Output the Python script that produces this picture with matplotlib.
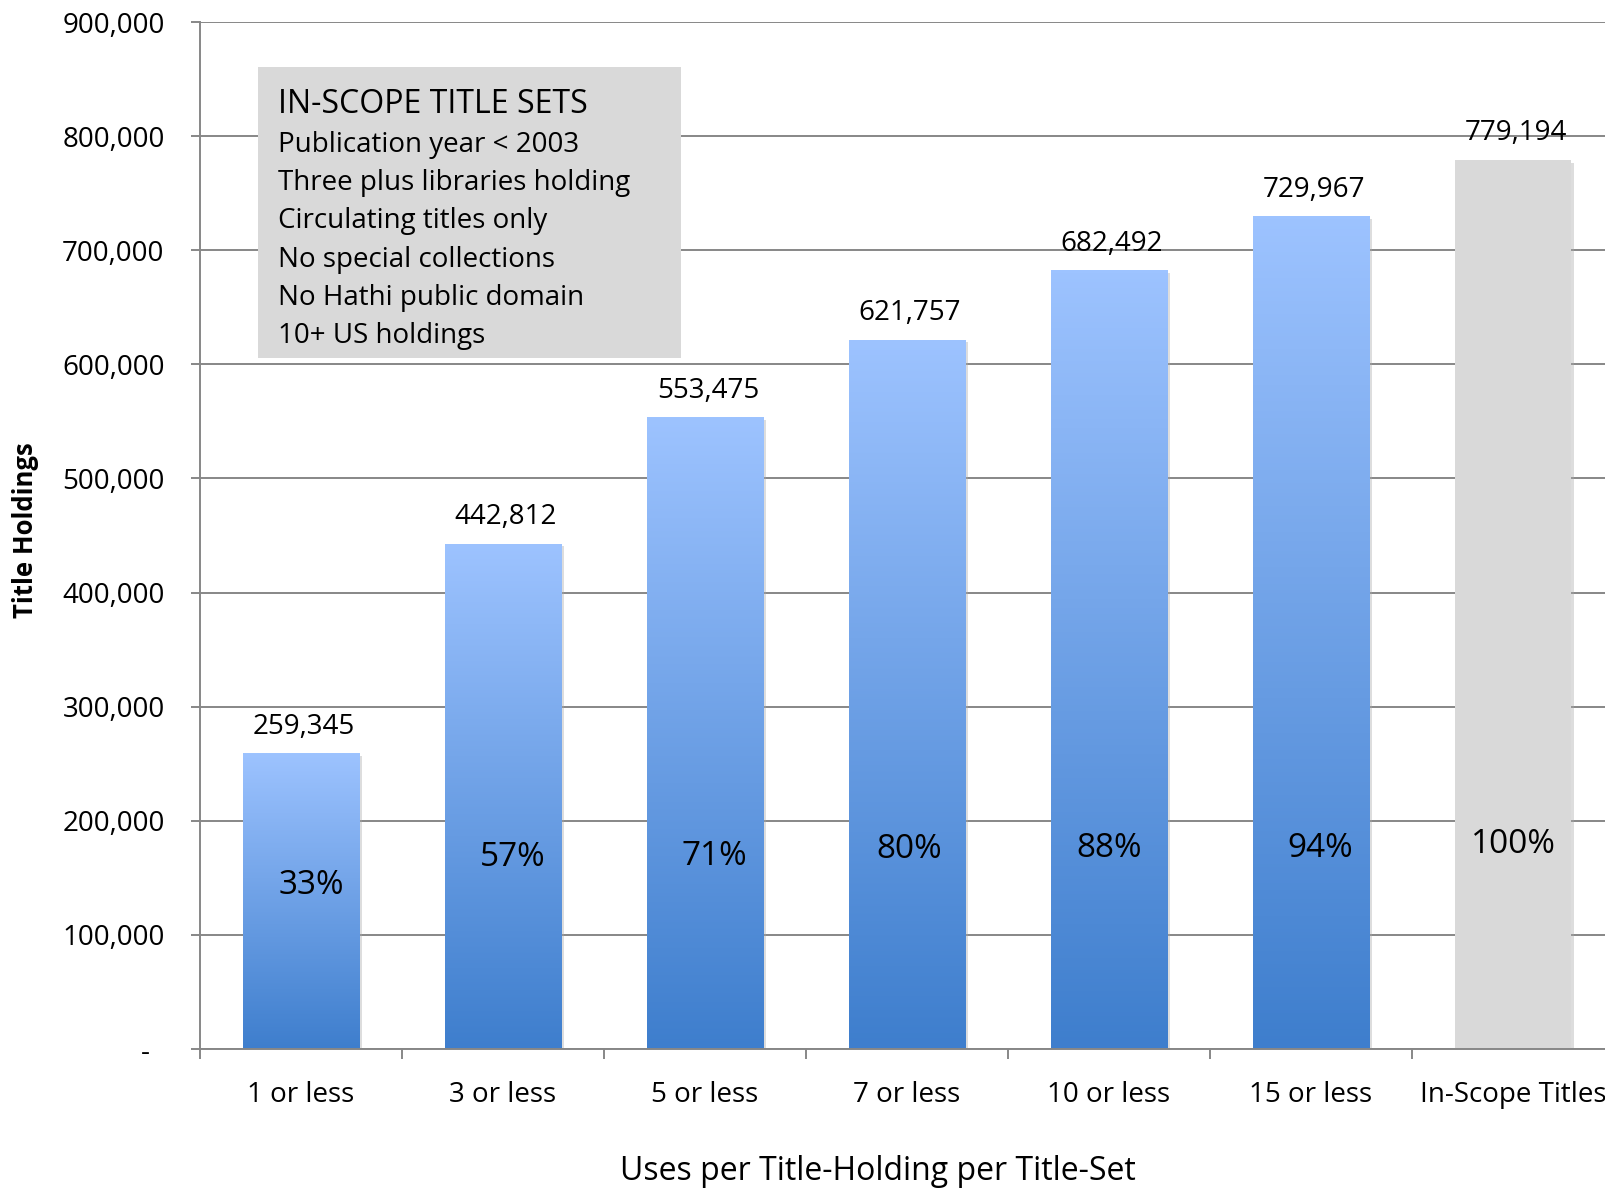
import numpy as np
import matplotlib.pyplot as plt
from matplotlib.patches import Rectangle
from matplotlib.colors import LinearSegmentedColormap
import matplotlib.patheffects as pe

plt.rcParams['font.family'] = ['Open Sans', 'DejaVu Sans']

# data
categories = ['1 or less', '3 or less', '5 or less', '7 or less',
              '10 or less', '15 or less', 'In-Scope Titles']
holdings = [259345, 442812, 553475, 621757, 682492, 729967, 779194]
pct_labels = ['33%', '57%', '71%', '80%', '88%', '94%', '100%']
pct_y = [136000, 160000, 161000, 167000, 168000, 168000, 172000]
pct_dx = [0.05, 0.05, 0.045, 0.01, 0.0, 0.045, 0.0]
legend_lines = ['Publication year < 2003', 'Three plus libraries holding',
                'Circulating titles only', 'No special collections',
                'No Hathi public domain', '10+ US holdings']

W, H = 1606, 1189
fig = plt.figure(figsize=(W / 100, H / 100), dpi=100)
ax = fig.add_axes([200 / W, (H - 1049) / H, 1414 / W, (1049 - 22) / H])

grid_c = '#878787'
blue_cmap = LinearSegmentedColormap.from_list('b', ['#3e7ecd', '#9dc3ff'])
grad = np.linspace(0, 1, 256).reshape(-1, 1)

x = np.arange(len(categories))
bw = 0.575
shadow = [pe.SimplePatchShadow(offset=(2, -2), shadow_rgbFace='#aaaaaa', alpha=0.4),
          pe.Normal()]
for i, (xi, v) in enumerate(zip(x, holdings)):
    if i < len(categories) - 1:
        b = ax.bar(xi, v, width=bw, color='#6fa0e6', zorder=2,
                   path_effects=shadow)[0]
        im = ax.imshow(grad, cmap=blue_cmap, aspect='auto', origin='lower',
                       extent=[xi - bw / 2, xi + bw / 2, 0, v], zorder=2.5)
        im.set_clip_path(b)
    else:
        ax.bar(xi, v, width=bw, color='#d9d9d9', zorder=2,
               path_effects=shadow)
    ax.annotate(f'{v:,}', (xi + 0.015, v), xytext=(0, 14),
                textcoords='offset points',
                ha='center', va='baseline', fontsize=20, zorder=5)
    ax.text(xi + pct_dx[i], pct_y[i], pct_labels[i], ha='center',
            va='baseline', fontsize=24, zorder=5)

ax.set_xlim(-0.5, len(categories) - 0.5)
ax.set_ylim(0, 900000)

ax.set_yticks(np.arange(0, 900001, 100000))
ax.set_yticklabels(['-  '] + [f'{t:,}' for t in range(100000, 900001, 100000)],
                   fontsize=20)
ax.yaxis.grid(True, color=grid_c, linewidth=1.4, zorder=0)
ax.set_axisbelow(True)

ax.set_xticks(np.arange(-0.5, len(categories), 1.0))
ax.set_xticklabels([])
ax.set_xticks(x, minor=True)
ax.set_xticklabels(categories, minor=True, fontsize=20)
ax.tick_params(axis='x', which='minor', length=0, pad=23)
ax.tick_params(axis='x', which='major', length=7, width=1.4, color=grid_c,
               direction='out')
ax.tick_params(axis='y', length=6.5, width=1.4, color=grid_c, pad=19)

for s in ['top', 'right']:
    ax.spines[s].set_visible(False)
for s in ['left', 'bottom']:
    ax.spines[s].set_color(grid_c)
    ax.spines[s].set_linewidth(1.4)

# in-scope box
ax.add_patch(Rectangle((258 / W, (H - 358) / H), 423 / W, 291 / H,
                       transform=fig.transFigure, facecolor='#d9d9d9',
                       edgecolor='none', zorder=3))
fig.text(278 / W, (H - 113) / H, 'IN-SCOPE TITLE SETS', fontsize=23,
         va='baseline', zorder=6)
for k, line in enumerate(legend_lines):
    fig.text(278 / W, (H - (152 + 38.2 * k)) / H, line, fontsize=20,
             va='baseline', zorder=6)

fig.text(26 / W, (H - 530) / H, 'Title Holdings', rotation=90, fontsize=18.5,
         fontweight='bold', ha='center', va='center')
fig.text(878 / W, (H - 1180) / H, 'Uses per Title-Holding per Title-Set',
         fontsize=23, ha='center', va='baseline')

fig.savefig('out.png', dpi=100)
